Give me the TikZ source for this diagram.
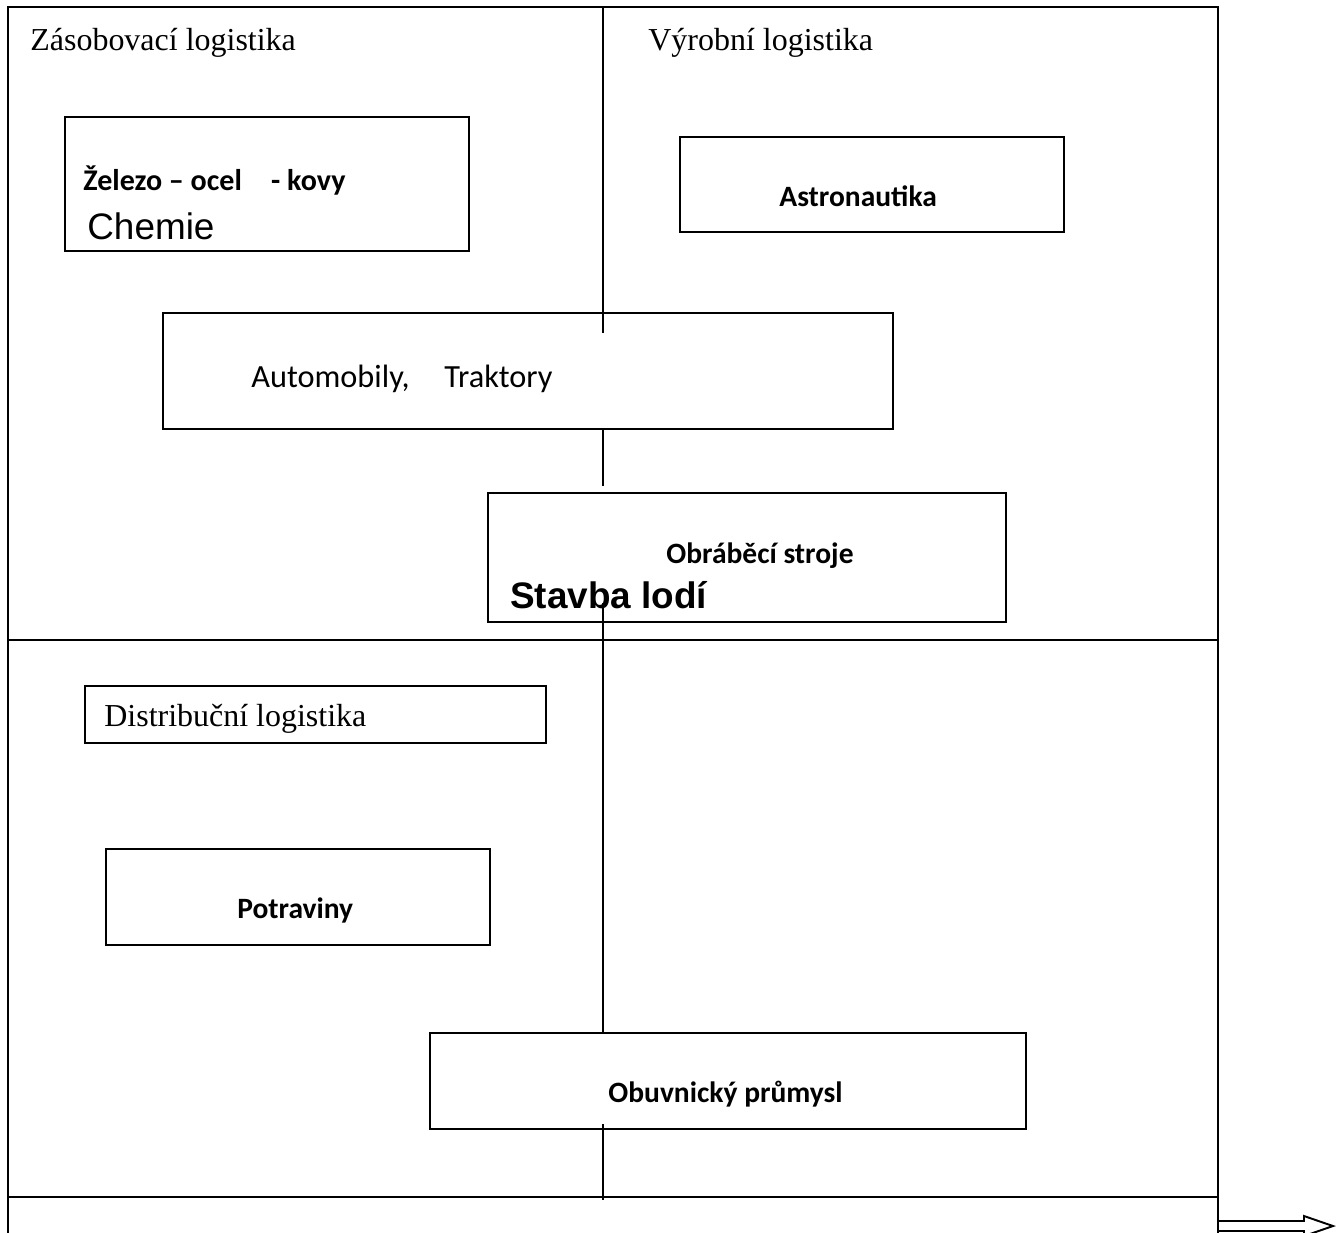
\documentclass[tikz,border=0pt]{standalone}
\usepackage{fontspec}
\setmainfont{Liberation Serif}
\newfontfamily\calibrifont{Carlito}
\newfontfamily\arialfont{Liberation Sans}
\usetikzlibrary{fit}

\tikzset{
  frame/.style={line width=1.1pt},
  box/.style={draw, line width=0.9pt, inner sep=0pt},
  lbl/.style={anchor=base west, inner sep=0pt},
  serif/.style={lbl, font=\fontsize{18.2}{20}\selectfont},
  calb/.style={lbl, font=\calibrifont\bfseries\fontsize{16.8}{18}\selectfont},
  calr/.style={lbl, font=\calibrifont\fontsize{18.4}{20}\selectfont},
  big/.style={lbl, font=\arialfont\fontsize{21}{24}\selectfont}
}

\begin{document}
\begin{tikzpicture}[x=0.02cm, y=-0.02cm]
    \useasboundingbox (0,0) rectangle (1344,1232);
    \clip (0,0) rectangle (1344,1232);

    % frame and quadrants
    \draw[frame] (8,1240) -- (8,7) -- (1218,7) -- (1218,1240);
    \draw[frame] (8,640) -- (1218,640);
    \draw[frame] (8,1197) -- (1218,1197);

    % hollow arrow
    \draw[frame] (1218,1221) -- (1304,1221) -- (1304,1216) -- (1333,1226)
      -- (1304,1236) -- (1304,1231) -- (1218,1231);

    % headings
    \node[serif] (zasob) at (30,50) {Zásobovací logistika};
    \node[serif] (vyrob) at (648,50) {Výrobní logistika};

    % boxes
    \node[box, fit={(65,117) (469,251)}] (zelezo) {};
    \node[calb, font=\calibrifont\bfseries\fontsize{17.1}{18}\selectfont] (zelezoT) at (83,190) {Železo – ocel\hspace{0.45cm} - kovy};
    \node[big] (chemie) at (87,239) {Chemie};

    \node[box, fit={(680,137) (1064,232)}] (astro) {};
    \node[calb] (astroT) at (779,206) {Astronautika};

    \node[box, fit={(163,313) (893,429)}] (auto) {};
    \node[calr] (autoT) at (251,387) {Automobily,\hspace{0.55cm} Traktory};

    \node[box, fit={(488,493) (1006,622)}] (stroje) {};
    \node[calb] (strojeT) at (666,563) {Obráběcí stroje};
    \node[big, font=\arialfont\bfseries\fontsize{21}{24}\selectfont] (lode) at (510,608) {Stavba lodí};

    \node[box, fit={(85,686) (546,743)}] (distr) {};
    \node[serif] (distrT) at (104,726) {Distribuční logistika};

    \node[box, fit={(106,849) (490,945)}] (potr) {};
    \node[calb] (potrT) at (237,918) {Potraviny};

    \node[box, fit={(430,1033) (1026,1129)}] (obuv) {};
    \node[calb] (obuvT) at (608,1102) {Obuvnický průmysl};

    % centre axis
    \coordinate (axTop) at (603,7);
    \coordinate (axA) at (603,333);
    \coordinate (axB) at (603,486);
    \coordinate (axC) at (603,603);
    \coordinate (axD) at (603,1124);
    \coordinate (axE) at (603,1200);
    \draw[frame] (axTop) -- (axA);
    \draw[frame] (auto.south -| axB) -- (axB);
    \draw[frame] (axC) -- (obuv.north -| axC);
    \draw[frame] (axD) -- (axE);
\end{tikzpicture}
\end{document}
